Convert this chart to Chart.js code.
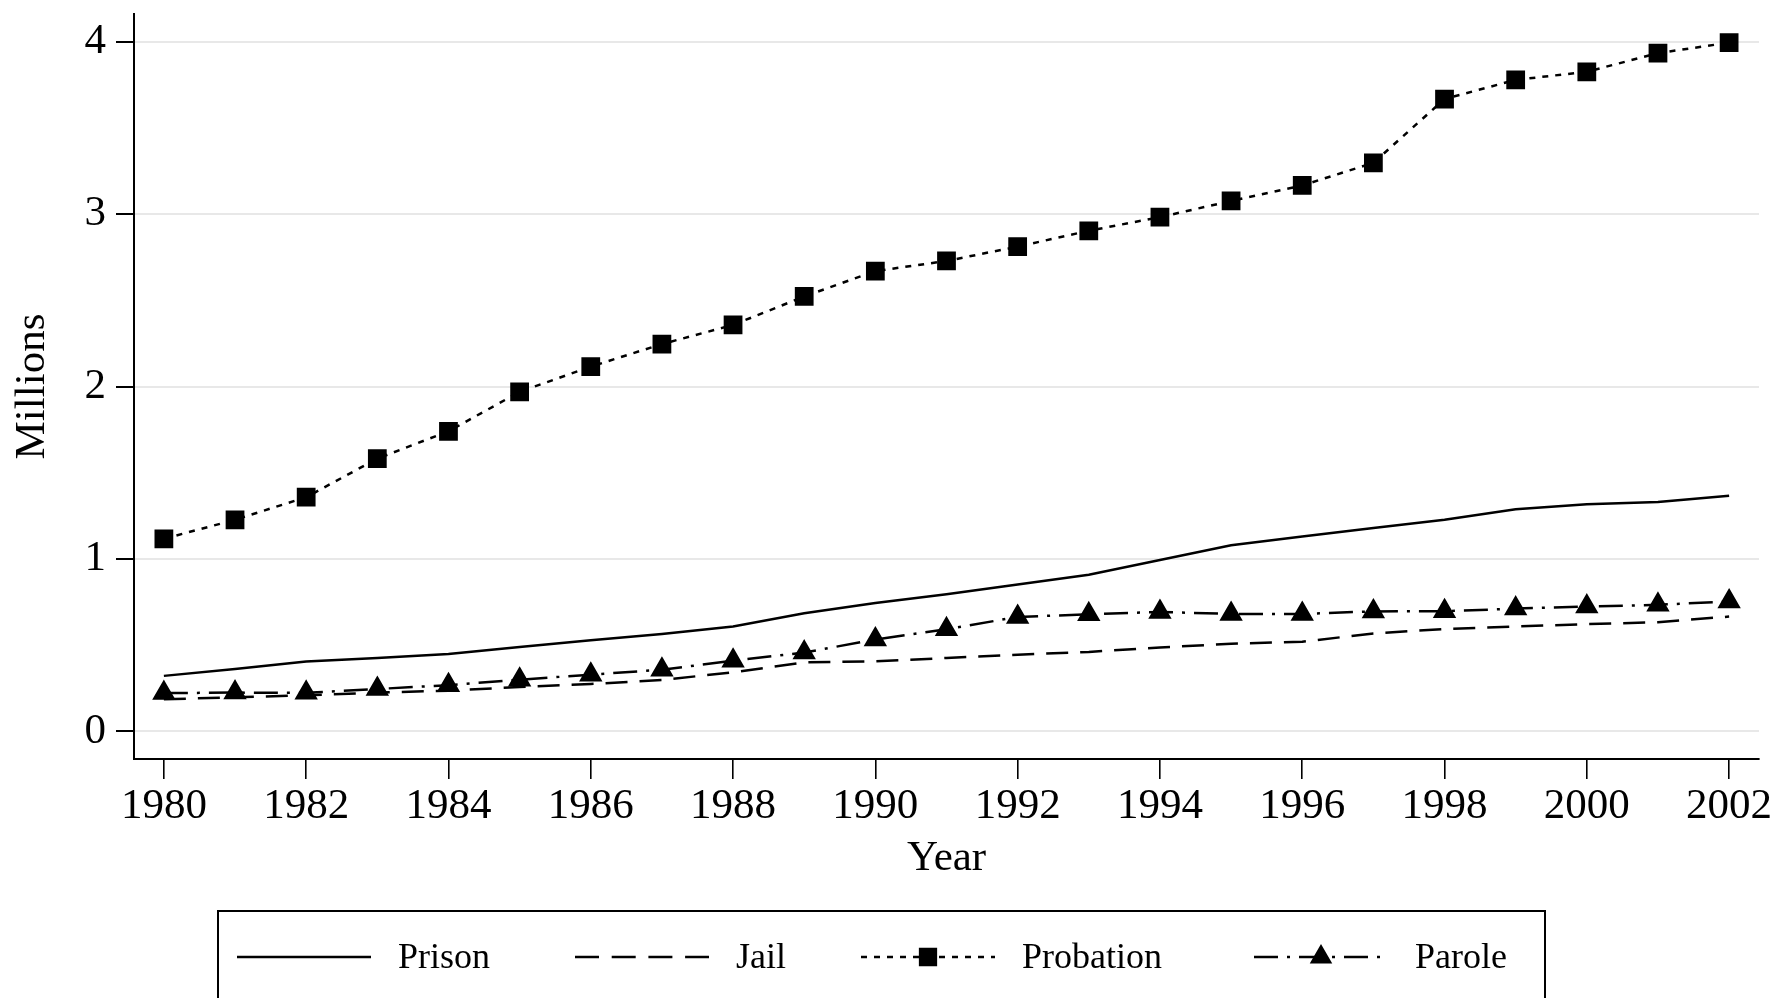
<!DOCTYPE html>
<html>
<head>
<meta charset="utf-8">
<script src="https://cdn.jsdelivr.net/npm/chart.js@4.4.1/dist/chart.umd.min.js"></script>
<style>
  html, body { margin: 0; padding: 0; background: #fff; }
  canvas { display: block; }
</style>
</head>
<body>
<canvas id="chart" width="1777" height="998"></canvas>
<script>
// values (millions)
const years = [1980, 1981, 1982, 1983, 1984, 1985, 1986, 1987, 1988, 1989, 1990, 1991,
               1992, 1993, 1994, 1995, 1996, 1997, 1998, 1999, 2000, 2001, 2002];
const prison    = [0.322, 0.362, 0.405, 0.426, 0.449, 0.489, 0.528, 0.565, 0.608, 0.685, 0.744, 0.795,
                   0.852, 0.909, 0.994, 1.080, 1.130, 1.179, 1.227, 1.288, 1.317, 1.330, 1.367];
const jail      = [0.186, 0.198, 0.209, 0.225, 0.236, 0.258, 0.275, 0.298, 0.343, 0.400, 0.406, 0.426,
                   0.445, 0.461, 0.487, 0.508, 0.520, 0.568, 0.594, 0.608, 0.622, 0.633, 0.666];
const probation = [1.117, 1.227, 1.358, 1.582, 1.740, 1.969, 2.115, 2.246, 2.357, 2.522, 2.669, 2.728,
                   2.811, 2.903, 2.982, 3.076, 3.166, 3.297, 3.667, 3.778, 3.825, 3.933, 3.994];
const parole    = [0.222, 0.225, 0.224, 0.246, 0.268, 0.300, 0.329, 0.358, 0.410, 0.457, 0.533, 0.592,
                   0.664, 0.679, 0.693, 0.681, 0.681, 0.696, 0.697, 0.712, 0.724, 0.734, 0.754];
const seriesNames = ['Prison', 'Jail', 'Probation', 'Parole'];
const xTicks = [1980, 1982, 1984, 1986, 1988, 1990, 1992, 1994, 1996, 1998, 2000, 2002];
const yTicks = [0, 1, 2, 3, 4];

const FONT = "'Liberation Serif', 'Times New Roman', serif";
const pts = vals => years.map((yr, i) => ({ x: yr, y: vals[i] }));

// Stata-like legend box under the x-axis title
const legendPlugin = {
  id: 'boxLegend',
  afterDraw(chart) {
    const ctx = chart.ctx;
    const starts = [237, 575, 861, 1254];
    const keyW = 134, y = 957;
    ctx.save();
    ctx.strokeStyle = '#000';
    ctx.lineWidth = 2;
    ctx.setLineDash([]);
    ctx.strokeRect(218, 911, 1327, 120);

    chart.data.datasets.forEach((ds, i) => {
      const x0 = starts[i];
      ctx.save();
      ctx.strokeStyle = '#000';
      ctx.lineWidth = ds.borderWidth;
      ctx.setLineDash(ds.legendDash || ds.borderDash || []);
      ctx.beginPath();
      ctx.moveTo(x0, y);
      ctx.lineTo(x0 + keyW, y);
      ctx.stroke();
      ctx.restore();
      if (ds.pointRadius > 0) {
        Chart.helpers.drawPoint(ctx, {
          pointStyle: ds.pointStyle, radius: ds.pointRadius, rotation: 0, borderWidth: 1
        }, x0 + keyW / 2, y);
        ctx.fillStyle = '#000';
        ctx.fill();
      }
      ctx.fillStyle = '#000';
      ctx.font = '36px ' + FONT;
      ctx.textBaseline = 'middle';
      ctx.textAlign = 'left';
      ctx.fillText(ds.label, x0 + keyW + 27, y + 2);
    });
    ctx.restore();
  }
};

const base = {
  borderColor: '#000',
  backgroundColor: '#000',
  pointBackgroundColor: '#000',
  pointBorderColor: '#000',
  borderWidth: 2.5,
  fill: false,
  tension: 0
};

new Chart(document.getElementById('chart').getContext('2d'), {
  type: 'line',
  data: {
    datasets: [
      { ...base, label: seriesNames[0], data: pts(prison), pointRadius: 0 },
      { ...base, label: seriesNames[1], data: pts(jail), pointRadius: 0,
        borderDash: [22, 12], legendDash: [24, 12.7] },
      { ...base, label: seriesNames[2], data: pts(probation), borderDash: [6, 7],
        pointStyle: 'rect', pointRadius: 11.5 },
      { ...base, label: seriesNames[3], data: pts(parole), borderDash: [24, 9, 3, 9],
        pointStyle: 'triangle', pointRadius: 11 }
    ]
  },
  options: {
    responsive: false,
    animation: false,
    layout: { padding: { left: 7, top: 14, right: 18, bottom: 113 } },
    plugins: {
      legend: { display: false },
      tooltip: { enabled: false }
    },
    scales: {
      x: {
        type: 'linear',
        min: 1979.58,
        max: 2002.42,
        afterBuildTicks: s => { s.ticks = xTicks.map(v => ({ value: v })); },
        afterFit: s => { s.height = 126; s.paddingLeft = 0; s.paddingRight = 0; },
        ticks: {
          callback: v => String(v),
          color: '#000',
          padding: 2,
          maxRotation: 0,
          autoSkip: false,
          font: { family: FONT, size: 43 }
        },
        grid: {
          drawOnChartArea: false,
          drawTicks: true,
          tickLength: 20,
          tickColor: '#000',
          lineWidth: 1.6
        },
        border: { display: true, color: '#000', width: 2 },
        title: {
          display: true,
          text: 'Year',
          color: '#000',
          padding: 0,
          font: { family: FONT, size: 43 }
        }
      },
      y: {
        min: -0.16,
        max: 4.16,
        afterBuildTicks: s => { s.ticks = yTicks.map(v => ({ value: v })); },
        afterFit: s => { s.width = 127; s.paddingTop = 0; s.paddingBottom = 0; },
        ticks: {
          callback: v => String(v),
          color: '#000',
          padding: 10,
          font: { family: FONT, size: 43 }
        },
        grid: {
          color: '#e8e8e8',
          lineWidth: 2,
          tickColor: '#000',
          tickLength: 18
        },
        border: { display: true, color: '#000', width: 2 },
        title: {
          display: true,
          text: 'Millions',
          color: '#000',
          padding: 0,
          font: { family: FONT, size: 43 }
        }
      }
    }
  },
  plugins: [legendPlugin]
});
</script>
</body>
</html>
